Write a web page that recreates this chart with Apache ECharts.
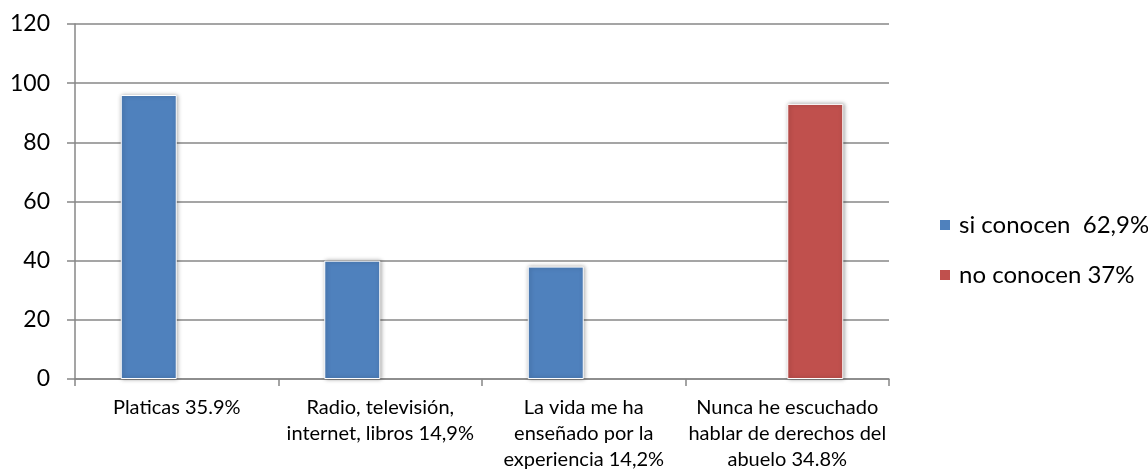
<!DOCTYPE html>
<html>
<head>
<meta charset="utf-8">
<script src="https://cdn.jsdelivr.net/npm/echarts@6/dist/echarts.min.js"></script>
<style>
  html, body { margin: 0; padding: 0; background: #fff; }
  #chart { width: 1148px; height: 473px; }
</style>
</head>
<body>
<div id="chart"></div>
<script>
// Categories (line breaks follow the wrapped axis labels)
const categories = [
  'Platicas 35.9%',
  'Radio, televisión,\ninternet, libros 14,9%',
  'La vida me ha\nenseñado por la\nexperiencia 14,2%',
  'Nunca he escuchado\nhablar de derechos del\nabuelo 34.8%'
];
const seriesNames = ['si conocen  62,9%', 'no conocen 37%'];
const siConocen = [96, 40, 38, null];
const noConocen = [null, null, null, 93];
const yTicks = { min: 0, max: 120, interval: 20 };

const FONT = 'Lato, "Noto Sans", sans-serif';
const GRID = '#878787';

const barStyle = (color) => ({
  color: color,
  borderColor: '#ffffff',
  borderWidth: 1,
  shadowColor: 'rgba(0,0,0,0.35)',
  shadowBlur: 4,
  shadowOffsetX: 1,
  shadowOffsetY: 0
});

const chart = echarts.init(document.getElementById('chart'), null, { renderer: 'canvas' });
chart.setOption({
  animation: false,
  backgroundColor: '#ffffff',
  textStyle: { fontFamily: FONT },
  grid: { left: 75, right: 259, top: 24, bottom: 90, containLabel: false },
  legend: {
    orient: 'vertical',
    left: 933,
    top: 207,
    itemWidth: 12,
    itemHeight: 12,
    itemGap: 24,
    icon: 'rect',
    textStyle: { fontFamily: FONT, fontSize: 24, color: '#000', lineHeight: 26, padding: [0, 0, 0, 3] },
    data: seriesNames
  },
  xAxis: {
    type: 'category',
    data: categories,
    axisLine: { show: true, lineStyle: { color: GRID, width: 1.5 } },
    axisTick: { show: true, length: 7, lineStyle: { color: GRID, width: 1.5 } },
    axisLabel: {
      interval: 0,
      margin: 16,
      fontFamily: FONT,
      fontSize: 20,
      lineHeight: 26,
      color: '#000',
      align: 'center'
    }
  },
  yAxis: {
    type: 'value',
    min: yTicks.min,
    max: yTicks.max,
    interval: yTicks.interval,
    axisLine: { show: true, lineStyle: { color: GRID, width: 1.5 } },
    axisTick: { show: true, length: 8, lineStyle: { color: GRID, width: 1.5 } },
    axisLabel: { margin: 25, fontFamily: FONT, fontSize: 23, color: '#000' },
    splitLine: { show: true, lineStyle: { color: GRID, width: 1.5 } }
  },
  series: [
    {
      name: seriesNames[0],
      type: 'bar',
      data: siConocen,
      barWidth: 56,
      barGap: '0%',
      itemStyle: barStyle('#4F81BD')
    },
    {
      name: seriesNames[1],
      type: 'bar',
      data: noConocen,
      barWidth: 56,
      barGap: '0%',
      itemStyle: barStyle('#C0504D')
    }
  ]
});
</script>
</body>
</html>
